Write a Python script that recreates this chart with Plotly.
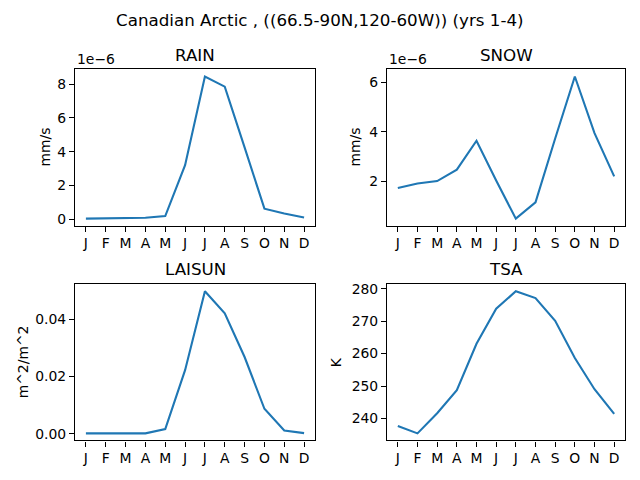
import plotly.graph_objects as go

W, H = 640, 480
# la pagina html sposta il grafico di 8px (margine del body): compensiamo
OFF = 8

mesi = ["J", "F", "M", "A", "M", "J", "J", "A", "S", "O", "N", "D"]

# valori (RAIN e SNOW in unita' di 1e-6 mm/s)
rain_1e6 = [0.03, 0.04, 0.05, 0.08, 0.18, 3.2, 8.45, 7.85, 4.25, 0.62, 0.33, 0.1]
snow_1e6 = [1.72, 1.9, 2.0, 2.46, 3.63, 2.02, 0.48, 1.14, 3.72, 6.23, 3.94, 2.19]
laisun = [0.0001, 0.0001, 0.0001, 0.0001, 0.0016, 0.0222, 0.0498, 0.0421,
          0.0268, 0.0087, 0.0011, 0.0002]
tsa = [237.7, 235.4, 241.6, 248.7, 263.0, 273.8, 279.2, 277.1, 270.1,
       258.6, 249.0, 241.4]

titolo = "Canadian Arctic , ((66.5-90N,120-60W)) (yrs 1-4)"

pannelli = [
    # nome, dati, unita', ticks, formato, box pixel (x0, x1, y0, y1), pos. etichetta y, esponente
    ("RAIN", rain_1e6, "mm/s", [0, 2, 4, 6, 8], "d", (75, 315, 66, 224), 45, "1e\u22126"),
    ("SNOW", snow_1e6, "mm/s", [2, 4, 6], "d", (387, 625, 66, 224), 355, "1e\u22126"),
    ("LAISUN", laisun, "m^2/m^2", [0, 0.02, 0.04], ".2f", (75, 315, 283, 441), 23, None),
    ("TSA", tsa, "K", [240, 250, 260, 270, 280], "d", (387, 625, 283, 441), 336, None),
]

FONT = "DejaVu Sans"


def px(x):
    return (x - OFF) / W


def py(y):
    return 1 - (y - OFF) / H


fig = go.Figure()
annotazioni = []

for i, (nome, dati, unita, ticks, fmt, box, ylab_x, espon) in enumerate(pannelli, start=1):
    x0, x1, y0, y1 = box
    xa = "x" if i == 1 else f"x{i}"
    ya = "y" if i == 1 else f"y{i}"
    fig.add_trace(go.Scatter(x=list(range(12)), y=dati, mode="lines",
                             line=dict(color="#1f77b4", width=2.1),
                             xaxis=xa, yaxis=ya, showlegend=False))

    lo, hi = min(dati), max(dati)
    pad = 0.05 * (hi - lo)
    asse = dict(showline=True, mirror=True, linecolor="black", linewidth=1.1,
                ticks="outside", ticklen=5, tickwidth=1.1, tickcolor="black",
                showgrid=False, zeroline=False,
                tickfont=dict(family=FONT, size=13.9, color="black"))
    fig.update_layout(**{
        f"xaxis{'' if i == 1 else i}": dict(asse, domain=[px(x0), px(x1)],
                                              range=[-0.55, 11.55],
                                              tickvals=list(range(12)), ticktext=mesi,
                                              anchor=ya),
        f"yaxis{'' if i == 1 else i}": dict(asse, domain=[py(y1), py(y0)],
                                              range=[lo - pad, hi + pad],
                                              tickvals=ticks, tickformat=fmt,
                                              anchor=xa),
    })

    annotazioni.append(dict(text=nome, x=px((x0 + x1) / 2), y=py(y0 - 15),
                            xref="paper", yref="paper", showarrow=False,
                            xanchor="center", yanchor="middle",
                            font=dict(family=FONT, size=16.7, color="black")))
    annotazioni.append(dict(text=unita, x=px(ylab_x), y=py((y0 + y1) / 2),
                            xref="paper", yref="paper", showarrow=False,
                            textangle=-90, xanchor="center", yanchor="middle",
                            font=dict(family=FONT, size=13.9, color="black")))
    if espon:
        annotazioni.append(dict(text=espon, x=px(x0), y=py(56),
                                xref="paper", yref="paper", showarrow=False,
                                xanchor="left", yanchor="middle",
                                font=dict(family=FONT, size=13.9, color="black")))

annotazioni.append(dict(text=titolo, x=px(320), y=py(16.5), xref="paper", yref="paper",
                        showarrow=False, xanchor="center", yanchor="middle",
                        font=dict(family=FONT, size=16.7, color="black")))

fig.update_layout(width=W, height=H, margin=dict(l=0, r=0, t=0, b=0),
                  paper_bgcolor="white", plot_bgcolor="white",
                  annotations=annotazioni, font=dict(family=FONT))

fig.write_html("out.html")
